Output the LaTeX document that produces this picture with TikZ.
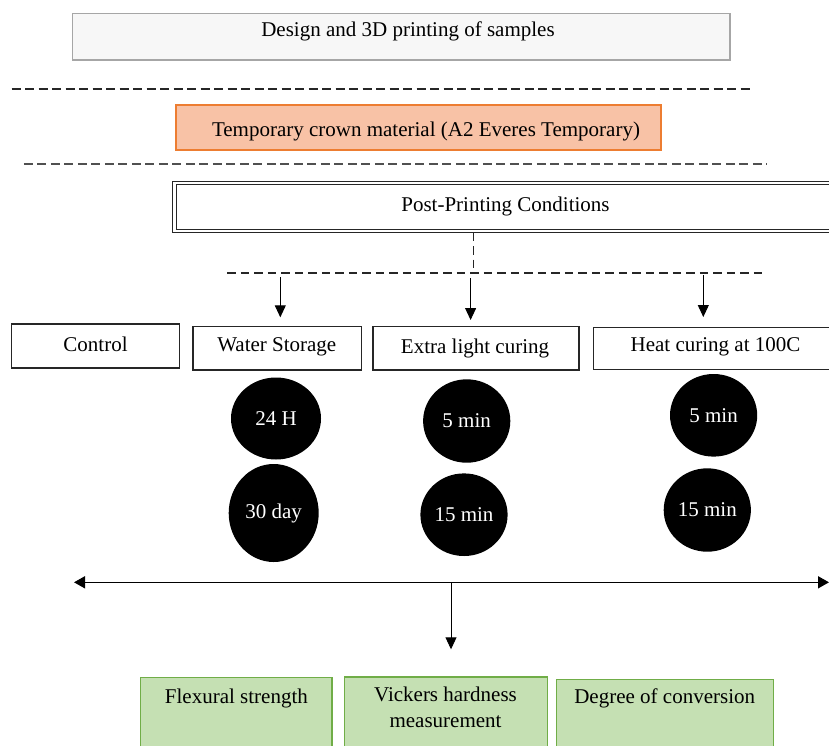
\documentclass[tikz,border=0pt]{standalone}
\usepackage{fontspec}
\setmainfont{Liberation Serif}
\usetikzlibrary{shapes.geometric,arrows.meta}
\definecolor{boxgray}{HTML}{F7F7F7}
\definecolor{linegray}{HTML}{A6A6A6}
\definecolor{orfill}{HTML}{F8C2A6}
\definecolor{ordraw}{HTML}{ED7D31}
\definecolor{grfill}{HTML}{C5E0B3}
\definecolor{grdraw}{HTML}{70AD47}
\definecolor{edge}{HTML}{262626}
\definecolor{dashgray}{HTML}{505050}
\begin{document}
\begin{tikzpicture}[x=1pt,y=-1pt,
  every node/.style={font=\fontsize{21}{26.7}\selectfont},
  plainbox/.style={draw=edge,line width=1.4pt,fill=white,rectangle,inner sep=0pt,outer sep=0pt},
  txt/.style={inner sep=0pt,outer sep=0pt,align=center},
  dashline/.style={line width=1.7pt,dash pattern=on 9pt off 4.5pt,draw=edge},
  arr/.style={line width=0.9pt,-{Triangle[width=11pt,length=12pt]}},
  dot/.style={ellipse,fill=black,inner sep=0pt,text=white},
]
\clip (0,0) rectangle (829,745);
\fill[white] (0,0) rectangle (829,745);

% top box
\node[rectangle,draw=linegray,fill=boxgray,line width=1.4pt,minimum width=657.4pt,minimum height=46.7pt,inner sep=0pt] (design) at (401.1,36.65) {};
\node[txt] (tdesign) at (408,31.7) {Design and 3D printing of samples};

\coordinate (d1a) at (11.6,89.3);
\coordinate (d1b) at (753.6,89.3);
\draw[dashline] (d1a) -- (d1b);

% orange box
\node[rectangle,draw=ordraw,fill=orfill,line width=1.2pt,minimum width=485pt,minimum height=45pt,inner sep=0pt] (material) at (418.5,127.5) {};
\node[txt] (tmaterial) at (426,131.7) {Temporary crown material (A2 Everes Temporary)};

\coordinate (d2a) at (23.8,163.8);
\coordinate (d2b) at (766.8,163.8);
\draw[dashline,draw=dashgray] (d2a) -- (d2b);

% post printing
\node[rectangle,draw=edge,double=white,double distance=2.2pt,line width=1pt,minimum width=685.5pt,minimum height=48pt,inner sep=0pt] (post) at (517.25,206.7) {};
\node[txt] (tpost) at (505.5,206) {Post-Printing Conditions};

\coordinate (d3a) at (227.4,273);
\coordinate (d3b) at (765.2,273);
\coordinate (vtop) at (473.7,232.5);
\coordinate (vbot) at (473.7,273);
\draw[dashline,line width=1.3pt,dash pattern=on 8.5pt off 5pt] (vtop) -- (vbot);
\draw[dashline,line width=1.3pt,dash pattern=on 8.5pt off 5pt] (d3a) -- (d3b);

% arrows down
\coordinate (a1s) at (280.3,277);
\coordinate (a1e) at (280.3,317.3);
\coordinate (a2s) at (470.6,278);
\coordinate (a2e) at (470.6,320);
\coordinate (a3s) at (703.3,275);
\coordinate (a3e) at (703.3,317);
\draw[arr] (a1s) -- (a1e);
\draw[arr] (a2s) -- (a2e);
\draw[arr] (a3s) -- (a3e);

% condition boxes
\node[plainbox,minimum width=167.8pt,minimum height=44pt] (control) at (95.6,346) {};
\node[txt] (tcontrol) at (95.5,344.3) {Control};
\node[plainbox,minimum width=168.2pt,minimum height=43.3pt] (water) at (277.1,348.35) {};
\node[txt] (twater) at (276.8,347.3) {Water Storage};
\node[plainbox,minimum width=206.2pt,minimum height=43.3pt] (light) at (475.9,348.35) {};
\node[txt] (tlight) at (475,348) {Extra light curing};
\node[plainbox,minimum width=266.7pt,minimum height=41.8pt] (heat) at (726.65,348.4) {};
\node[txt] (theat) at (715.5,346.7) {Heat curing at 100C};

% dots
\node[dot,minimum width=90pt,minimum height=82pt] (w1) at (276,418.5) {24 H};
\node[dot,minimum width=90pt,minimum height=98pt] (w2) at (273.7,513) {30 day};
\node[dot,minimum width=87.2pt,minimum height=83.4pt] (l1) at (466.7,421) {5 min};
\node[dot,minimum width=87.2pt,minimum height=82.6pt] (l2) at (464,514.7) {15 min};
\node[dot,minimum width=87.2pt,minimum height=82.6pt] (h1) at (713.6,415.3) {5 min};
\node[dot,minimum width=87.2pt,minimum height=83.4pt] (h2) at (707.3,510) {15 min};

% bottom arrows
\coordinate (hl) at (74,582.3);
\coordinate (hr) at (829,582.3);
\coordinate (hm) at (451,582.3);
\coordinate (hd) at (451,649.3);
\draw[line width=1.6pt,{Triangle[width=12pt,length=11pt]}-{Triangle[width=12pt,length=11pt]}] (hl) -- (hr);
\draw[arr] (hm) -- (hd);

% result boxes
\node[rectangle,draw=grdraw,fill=grfill,line width=1.2pt,minimum width=191.3pt,minimum height=102.3pt,inner sep=0pt] (flex) at (236.35,728.85) {};
\node[txt] (tflex) at (236.4,698.3) {Flexural strength};
\node[rectangle,draw=grdraw,fill=grfill,line width=1.2pt,minimum width=203pt,minimum height=103pt,inner sep=0pt] (vick) at (445.8,728.5) {};
\node[txt,anchor=north] (tvick) at (445.5,686.5) {Vickers hardness\\measurement};
\node[rectangle,draw=grdraw,fill=grfill,line width=1.2pt,minimum width=216.9pt,minimum height=100.7pt,inner sep=0pt] (degree) at (665.25,729.65) {};
\node[txt] (tdegree) at (664.7,698) {Degree of conversion};
\end{tikzpicture}
\end{document}
